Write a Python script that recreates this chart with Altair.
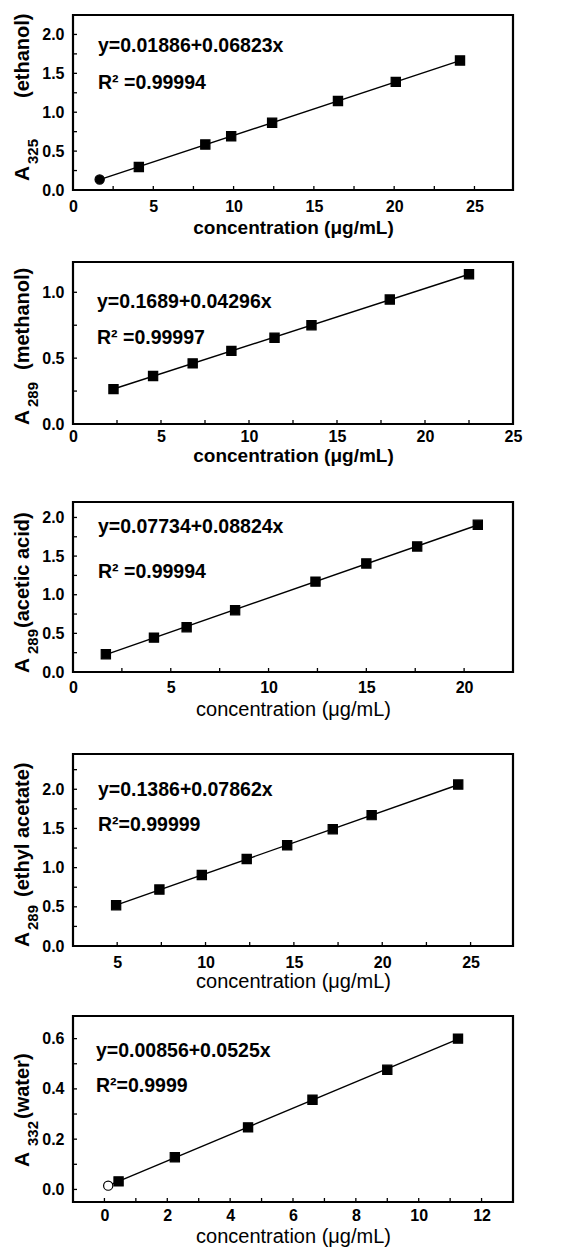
import altair as alt
import pandas as pd

FONT = "Liberation Sans"

# ---------------- data ----------------
x_ethanol = [1.66, 4.1, 8.24, 9.85, 12.4, 16.5, 20.1, 24.1]
y_ethanol = [0.135, 0.295, 0.585, 0.69, 0.865, 1.145, 1.39, 1.665]
k_ethanol = ["circle", "square", "square", "square", "square", "square", "square", "square"]

x_methanol = [2.3, 4.55, 6.8, 9.0, 11.45, 13.55, 18.0, 22.5]
y_methanol = [0.265, 0.365, 0.46, 0.555, 0.655, 0.75, 0.945, 1.137]
k_methanol = ["square"] * 8

x_acetic = [1.68, 4.14, 5.81, 8.29, 12.4, 15.0, 17.6, 20.7]
y_acetic = [0.23, 0.445, 0.58, 0.80, 1.17, 1.405, 1.625, 1.905]
k_acetic = ["square"] * 8

x_ethylac = [4.94, 7.39, 9.79, 12.33, 14.62, 17.2, 19.4, 24.3]
y_ethylac = [0.52, 0.72, 0.905, 1.11, 1.285, 1.49, 1.67, 2.06]
k_ethylac = ["square"] * 8

x_water = [0.12, 0.45, 2.24, 4.57, 6.62, 9.0, 11.25]
y_water = [0.015, 0.032, 0.128, 0.247, 0.357, 0.476, 0.6]
k_water = ["open", "square", "square", "square", "square", "square", "square"]

y_title_base = ["A", "A", "A", "A", "A"]
y_title_sub = ["325", "289", "289", "289", "332"]
y_title_rest = ["(ethanol)", "(methanol)", "(acetic acid)", "(ethyl acetate)", "(water)"]
x_titles = ["concentration  (μg/mL)", "concentration  (μg/mL)", "concentration (μg/mL)",
            "concentration (μg/mL)", "concentration (μg/mL)"]
eq_texts = ["y=0.01886+0.06823x", "y=0.1689+0.04296x", "y=0.07734+0.08824x",
            "y=0.1386+0.07862x", "y=0.00856+0.0525x"]
r2_texts = ["R² =0.99994", "R² =0.99997", "R² =0.99994", "R²=0.99999", "R²=0.9999"]

x_domains = [[0, 27.4], [0, 25], [0, 22.5], [2.5, 27.4], [-1, 13]]
y_domains = [[0, 2.25], [0, 1.23], [0, 2.2], [0, 2.45], [-0.05, 0.69]]
x_major = [[0, 5, 10, 15, 20, 25], [0, 5, 10, 15, 20, 25], [0, 5, 10, 15, 20],
           [5, 10, 15, 20, 25], [0, 2, 4, 6, 8, 10, 12]]
x_minor = [[2.5, 7.5, 12.5, 17.5, 22.5], [2.5, 7.5, 12.5, 17.5, 22.5],
           [2.5, 7.5, 12.5, 17.5], [7.5, 12.5, 17.5, 22.5], [1, 3, 5, 7, 9, 11]]
y_major = [[0, 0.5, 1.0, 1.5, 2.0], [0, 0.5, 1.0], [0, 0.5, 1.0, 1.5, 2.0],
           [0, 0.5, 1.0, 1.5, 2.0], [0, 0.2, 0.4, 0.6]]
y_minor = [[0.25, 0.75, 1.25, 1.75], [0.25, 0.75], [0.25, 0.75, 1.25, 1.75],
           [0.25, 0.75, 1.25, 1.75, 2.25], [0.1, 0.3, 0.5]]

xs_all = [x_ethanol, x_methanol, x_acetic, x_ethylac, x_water]
ys_all = [y_ethanol, y_methanol, y_acetic, y_ethylac, y_water]
ks_all = [k_ethanol, k_methanol, k_acetic, k_ethylac, k_water]

# ---------------- layout / style ----------------
W = 440
H = [175, 162, 170, 192, 186]
xlab_pad = [8, 4, 7, 8, 5]
xtit_pad = [4, 2, 4, 1, 3]
xtit_weight = ["bold", "bold", "normal", "normal", "normal"]
xtit_size = [19, 19, 20, 20, 20]
bottom_reach = [0, 53, 57, 0, 0]      # extra room below some panels
text_x = [25, 24, 25, 25, 23]
eq_y = [31, 40, 25, 36, 35]
r2_y = [68, 76, 70, 71, 70]
# y-title pieces: start (bottom end) of each piece, in px from the plot top
ybase_at = [166, 163, 171, 193, 151]
ysub_at = [149, 145, 152, 176, 130]
yrest_at = [83, 108, 126, 143, 103]


def txt(s, size, x, y, angle=0, weight="bold"):
    return alt.Chart(pd.DataFrame({"t": [s]})).mark_text(
        align="left", baseline="alphabetic" if angle else "middle", angle=angle,
        font=FONT, fontWeight=weight, fontSize=size, color="black"
    ).encode(text="t:N", x=alt.value(x), y=alt.value(y))


def panel(i):
    df = pd.DataFrame({"x": xs_all[i], "y": ys_all[i], "kind": ks_all[i]})
    xsc = alt.Scale(domain=x_domains[i], nice=False, zero=False)
    ysc = alt.Scale(domain=y_domains[i], nice=False, zero=False)
    xax = alt.Axis(values=x_major[i], format="d", ticks=False, domain=False, grid=False,
                   labelFlush=False, labelOverlap=False, labelPadding=xlab_pad[i],
                   titlePadding=xtit_pad[i], title=x_titles[i],
                   titleFontWeight=xtit_weight[i], titleFontSize=xtit_size[i])
    yax = alt.Axis(values=y_major[i], format=".1f", ticks=False, domain=False, grid=False,
                   labelFlush=False, labelOverlap=False, labelPadding=9, title=None)
    X = alt.X("x:Q", scale=xsc, axis=xax)
    Y = alt.Y("y:Q", scale=ysc, axis=yax)

    line = alt.Chart(df).transform_regression("x", "y").mark_line(
        color="black", strokeWidth=1.4).encode(x=X, y=Y)

    pts = alt.Chart(df).mark_point(filled=True, size=85, opacity=1, stroke="black",
                                   strokeWidth=1.2).encode(
        x=X, y=Y,
        shape=alt.Shape("kind:N", scale=alt.Scale(domain=["square", "circle", "open"],
                                                  range=["square", "circle", "circle"]),
                        legend=None),
        fill=alt.Fill("kind:N", scale=alt.Scale(domain=["square", "circle", "open"],
                                                range=["black", "black", "white"]),
                      legend=None),
    )

    ytk = alt.Chart(pd.DataFrame({"y": y_major[i] + y_minor[i]})).mark_rule(
        color="black", strokeWidth=1.3).encode(y=Y, x=alt.value(0), x2=alt.value(4))
    xtk = alt.Chart(pd.DataFrame({"x": x_major[i] + x_minor[i]})).mark_rule(
        color="black", strokeWidth=1.3).encode(x=X, y=alt.value(H[i]), y2=alt.value(H[i] - 4))

    eq = txt(eq_texts[i], 19.5, text_x[i], eq_y[i])
    r2 = txt(r2_texts[i], 19.5, text_x[i], r2_y[i])

    ya = txt(y_title_base[i], 21, -44, ybase_at[i], angle=270)
    yb = txt(y_title_sub[i], 15, -35, ysub_at[i], angle=270)
    yc = txt(y_title_rest[i], 20, -44, yrest_at[i], angle=270)

    layers = [line, pts, ytk, xtk, eq, r2, ya, yb, yc]
    if bottom_reach[i] > 0:
        yb2 = H[i] + bottom_reach[i]
        spacer = alt.Chart(pd.DataFrame({"t": [0]})).mark_rule(
            strokeOpacity=0, color="white").encode(
            x=alt.value(0), x2=alt.value(1), y=alt.value(yb2), y2=alt.value(yb2))
        layers.append(spacer)
    return alt.layer(*layers).properties(width=W, height=H[i])


chart = alt.vconcat(*[panel(i) for i in range(5)], spacing=21).properties(
    padding={"left": 2, "top": 4, "right": 5, "bottom": 2},
    background="white",
).configure_view(
    stroke="black", strokeWidth=2.2
).configure_axis(
    labelFont=FONT, labelFontWeight="bold", labelFontSize=16, labelColor="black",
    titleFont=FONT, titleFontWeight="bold", titleFontSize=20, titleColor="black",
)

chart.save("out.html", embed_options={"renderer": "svg", "actions": False})
